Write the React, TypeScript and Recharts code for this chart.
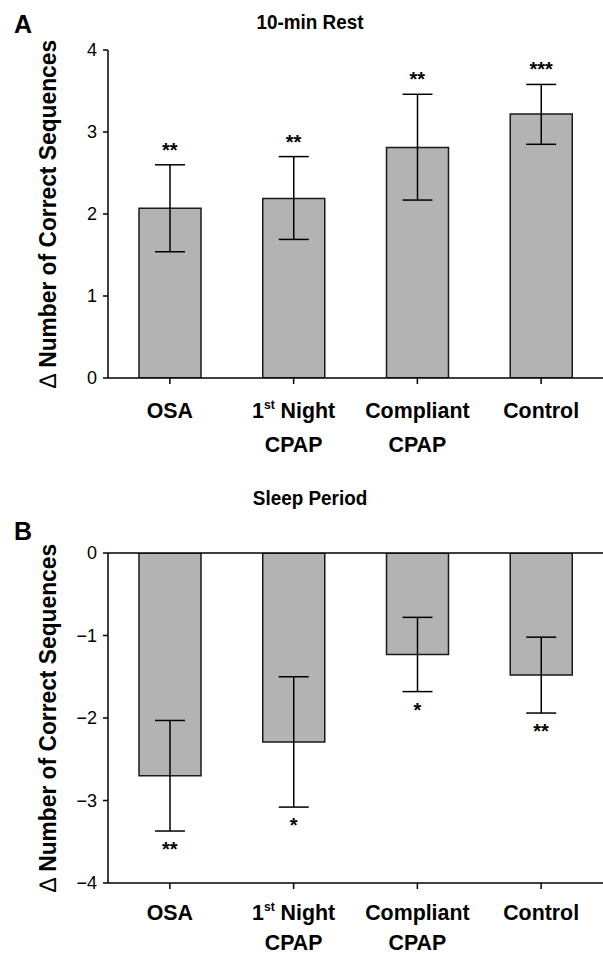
import {
  ComposedChart,
  Bar,
  Line,
  XAxis,
  YAxis,
  ErrorBar,
  LabelList,
  ReferenceLine,
} from 'recharts';

// Gruppen und Werte
const categories = ['OSA', '1st Night CPAP', 'Compliant CPAP', 'Control'];

const restMean = [2.07, 2.19, 2.81, 3.22];
const restLow = [1.54, 1.69, 2.17, 2.85];
const restHigh = [2.6, 2.7, 3.46, 3.58];
const restSig = ['**', '**', '**', '***'];

const sleepMean = [-2.7, -2.29, -1.23, -1.48];
const sleepLow = [-3.37, -3.08, -1.68, -1.94];
const sleepHigh = [-2.03, -1.5, -0.78, -1.02];
const sleepSig = ['**', '*', '*', '**'];

const restTicks = [0, 1, 2, 3, 4];
const sleepTicks = [-4, -3, -2, -1, 0];

const FONT = '"Liberation Sans Narrow", "Arial Narrow", "Liberation Sans", Arial, sans-serif';
const BAR_FILL = '#b3b3b3';

const restData = categories.map((name, i) => ({
  name,
  mean: restMean[i],
  err: [restMean[i] - restLow[i], restHigh[i] - restMean[i]],
  anchor: restHigh[i],
  sig: restSig[i],
}));

const sleepData = categories.map((name, i) => ({
  name,
  mean: sleepMean[i],
  err: [sleepMean[i] - sleepLow[i], sleepHigh[i] - sleepMean[i]],
  anchor: sleepLow[i],
  sig: sleepSig[i],
}));

// schmaler fetter Text (Arial Narrow ist nicht vorhanden)
function CondText({ x, y, size, sx = 0.93, rotate = 0, children }: any) {
  return (
    <g transform={`translate(${x}, ${y}) rotate(${rotate}) scale(${sx}, 1)`}>
      <text x={0} y={0} textAnchor="middle" fontFamily={FONT} fontWeight="bold" fontSize={size} fill="#000">
        {children}
      </text>
    </g>
  );
}

function makeCategoryTick(dy1: number, dy2: number) {
  return ({ x, y, payload }: any) => {
    const words = String(payload.value).split(' ');
    let first = words[0];
    let second = '';
    if (words.length === 3) {
      first = words[0] + ' ' + words[1];
      second = words[2];
    } else if (words.length === 2) {
      first = words[0];
      second = words[1];
    }
    const sup = first.match(/^(\d+)(st|nd|rd|th)( .*)$/);
    return (
      <g>
        <CondText x={x} y={y + dy1} size={23}>
          {sup ? (
            <>
              <tspan>{sup[1]}</tspan>
              <tspan fontSize={13} dy={-9}>{sup[2]}</tspan>
              <tspan dy={9}>{sup[3]}</tspan>
            </>
          ) : (
            first
          )}
        </CondText>
        {second && (
          <CondText x={x} y={y + dy2} size={23}>
            {second}
          </CondText>
        )}
      </g>
    );
  };
}

function StarLabel(dy: number) {
  return (props: any) => {
    const { x, y, value } = props;
    return (
      <text x={x} y={y + dy} textAnchor="middle" fontFamily="Arial, 'Liberation Sans', sans-serif" fontWeight="bold" fontSize={20} fill="#000">
        {value}
      </text>
    );
  };
}

interface PanelProps {
  letter: string;
  title: string;
  data: any[];
  ticks: number[];
  domain: [number, number];
  height: number;
  top: number;
  axisHeight: number;
  starDy: number;
  letterY: number;
  titleY: number;
  labelDy: [number, number];
  zeroLine?: boolean;
}

function Panel({ letter, title, data, ticks, domain, height, top, axisHeight, starDy, letterY, titleY, labelDy, zeroLine }: PanelProps) {
  const plotBottom = height - axisHeight;
  const mid = (top + plotBottom) / 2;
  const CategoryTick = makeCategoryTick(labelDy[0], labelDy[1]);
  return (
    <div style={{ position: 'relative', width: 603, height }}>
      <ComposedChart
        width={603}
        height={height}
        data={data}
        margin={{ top, right: 0, left: 0, bottom: 0 }}
        barCategoryGap="0%"
      >
        <XAxis
          dataKey="name"
          height={axisHeight}
          tick={<CategoryTick />}
          tickLine={{ stroke: '#000', strokeWidth: 1.5 }}
          tickSize={6}
          axisLine={{ stroke: '#000', strokeWidth: 1.5 }}
          interval={0}
        />
        <YAxis
          width={108}
          domain={domain}
          ticks={ticks}
          allowDataOverflow
          tickLine={{ stroke: '#000', strokeWidth: 1.5 }}
          tickSize={5}
          tickMargin={6}
          axisLine={{ stroke: '#000', strokeWidth: 1.5 }}
          tick={{ fill: '#000', fontSize: 18, fontFamily: FONT }}
          tickFormatter={(v: number) => (v < 0 ? '\u2212' + Math.abs(v) : String(v))}
        />
        {zeroLine && <ReferenceLine y={0} stroke="#000" strokeWidth={1.5} />}
        <Bar dataKey="mean" fill={BAR_FILL} stroke="#1a1a1a" strokeWidth={1.5} barSize={62} isAnimationActive={false}>
          <ErrorBar dataKey="err" width={15} stroke="#000" strokeWidth={1.5} />
        </Bar>
        <Line dataKey="anchor" stroke="none" dot={false} activeDot={false} isAnimationActive={false}>
          <LabelList dataKey="sig" content={StarLabel(starDy)} />
        </Line>
      </ComposedChart>
      <div style={{ position: 'absolute', left: 0, top: 0, pointerEvents: 'none' }}>
        <svg width={603} height={height}>
          <text x={14} y={letterY} fontFamily="Arial, 'Liberation Sans', sans-serif" fontWeight="bold" fontSize={25}>
            {letter}
          </text>
          <CondText x={310} y={titleY} size={21} sx={0.9}>
            {title}
          </CondText>
          <CondText x={56} y={mid} size={24} sx={0.95} rotate={-90}>
            <tspan fontWeight="normal">{'\u2206'}</tspan>
            {' Number of Correct Sequences'}
          </CondText>
        </svg>
      </div>
    </div>
  );
}

export default function App() {
  return (
    <div style={{ position: 'absolute', left: 0, top: 0, width: 603, height: 955, background: '#fff' }}>
      <Panel
        letter="A"
        title="10-min Rest"
        data={restData}
        ticks={restTicks}
        domain={[0, 4]}
        height={470}
        top={50}
        axisHeight={92}
        starDy={-8}
        letterY={33}
        titleY={29}
        labelDy={[32, 66]}
      />
      <Panel
        letter="B"
        title="Sleep Period"
        data={sleepData}
        ticks={sleepTicks}
        domain={[-4, 0]}
        height={485}
        top={83}
        axisHeight={72}
        starDy={25}
        letterY={70}
        titleY={35}
        labelDy={[29, 59]}
        zeroLine
      />
    </div>
  );
}
